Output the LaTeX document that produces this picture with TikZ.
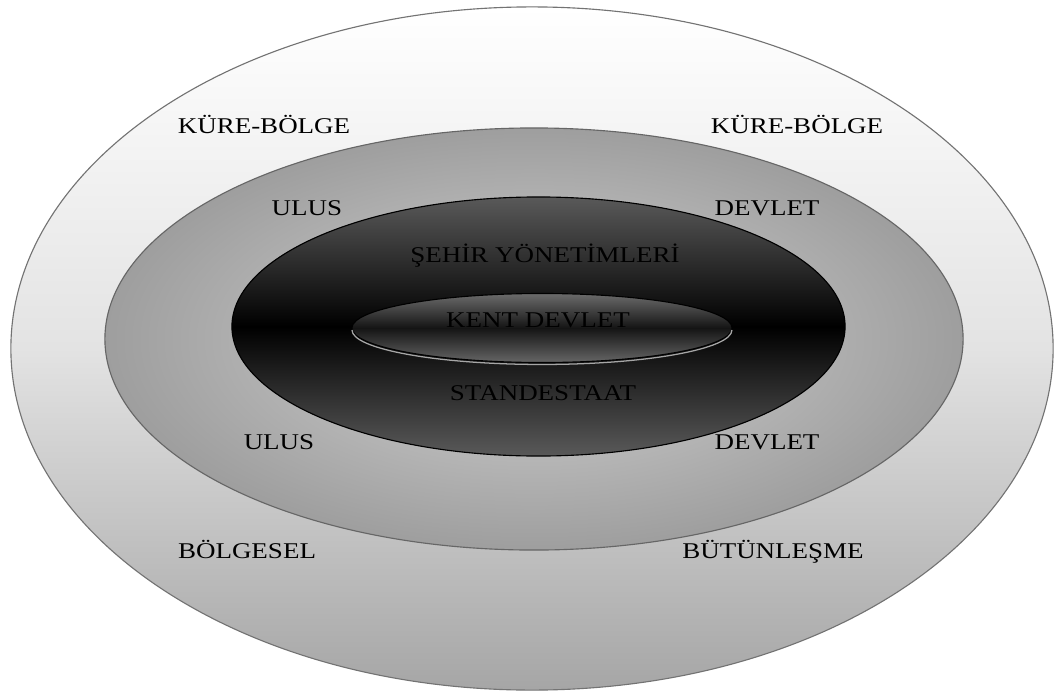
\documentclass[tikz,border=0pt]{standalone}
\usepackage{fontspec}
\setmainfont[FakeStretch=1.2]{Liberation Serif}
\usetikzlibrary{shapes.geometric}

\begin{document}
\begin{tikzpicture}[x=0.025cm,y=0.025cm,
  katman/.style={ellipse,inner sep=0pt,outer sep=0pt,line width=0.8pt},
  etiket/.style={font=\fontsize{16}{19}\selectfont,text=black,inner sep=0pt,anchor=base}]
\useasboundingbox (0,0) rectangle (1055,-692);

\node[katman,draw=black!55,top color=white,bottom color=black!35,middle color=black!11,
  minimum width=26.05cm,minimum height=17.075cm] (kure) at (532,-348.5) {};
\node[katman,draw=black!60,shading=radial,inner color=black!17,outer color=black!38,
  minimum width=21.45cm,minimum height=10.55cm] (ulus) at (534,-339) {};
\node[katman,draw=black,top color=black!65,bottom color=black!65,middle color=black,
  minimum width=15.325cm,minimum height=6.475cm] (sehir) at (538.5,-326.5) {};
\node[katman,draw=black,top color=black!58,bottom color=black!60,middle color=black!92,
  minimum width=9.5cm,minimum height=1.725cm] (kent) at (542,-328) {};
\draw[black!35,line width=0.9pt] ([yshift=-1.4pt]kent.west)
  arc[start angle=180,end angle=360,x radius=190,y radius=34.5];

\node[etiket] (kureSol) at (264,-133) {KÜRE-BÖLGE};
\node[etiket] (kureSag) at (797,-133) {KÜRE-BÖLGE};
\node[etiket] (ulusUst) at (307,-215) {ULUS};
\node[etiket] (devletUst) at (767,-215) {DEVLET};
\node[etiket] (sehirYon) at (545,-262) {ŞEHİR YÖNETİMLERİ};
\node[etiket] (kentDev) at (538,-327) {KENT DEVLET};
\node[etiket] (standes) at (543,-400) {STANDESTAAT};
\node[etiket] (ulusAlt) at (279,-449) {ULUS};
\node[etiket] (devletAlt) at (767,-449) {DEVLET};
\node[etiket] (bolgesel) at (247,-558) {BÖLGESEL};
\node[etiket] (butun) at (773,-558) {BÜTÜNLEŞME};
\end{tikzpicture}
\end{document}
